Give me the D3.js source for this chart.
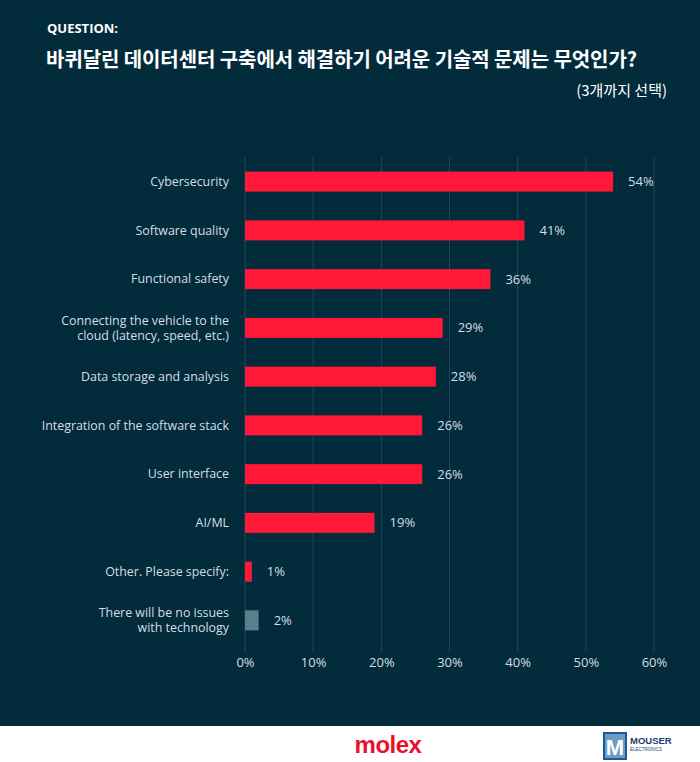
<!DOCTYPE html>
<html>
<head>
<meta charset="utf-8">
<script src="https://cdn.jsdelivr.net/npm/d3@7"></script>
<style>
  body { margin: 0; padding: 0; background: #fff; }
  svg { display: block; }
</style>
</head>
<body>
<div id="chart"></div>
<script>
// data
var categories = [
    ["Cybersecurity"],
    ["Software quality"],
    ["Functional safety"],
    ["Connecting the vehicle to the", "cloud (latency, speed, etc.)"],
    ["Data storage and analysis"],
    ["Integration of the software stack"],
    ["User interface"],
    ["AI/ML"],
    ["Other. Please specify:"],
    ["There will be no issues", "with technology"]
];
var values = [54, 41, 36, 29, 28, 26, 26, 19, 1, 2];
var neutral = [false, false, false, false, false, false, false, false, false, true];
var ticks = [0, 10, 20, 30, 40, 50, 60];

var width = 700, height = 762;
var bg = "#022b3b";

var svg = d3.select("#chart").append("svg")
    .attr("width", width)
    .attr("height", height);

svg.append("rect").attr("width", width).attr("height", 726).attr("fill", bg);
svg.append("rect").attr("y", 726).attr("width", width).attr("height", 36).attr("fill", "#ffffff");

// titles
svg.append("text")
    .attr("x", 47).attr("y", 33)
    .attr("fill", "#ffffff")
    .attr("font-family", "'Open Sans', sans-serif")
    .attr("font-weight", 700)
    .attr("font-size", 13)
    .text("QUESTION:");

svg.append("text")
    .attr("x", 46).attr("y", 67)
    .attr("fill", "#ffffff")
    .attr("font-family", "'Noto Sans CJK KR', sans-serif")
    .attr("font-weight", 700)
    .attr("font-size", 20)
    .attr("textLength", 591)
    .text("바퀴달린 데이터센터 구축에서 해결하기 어려운 기술적 문제는 무엇인가?");

svg.append("text")
    .attr("x", 667).attr("y", 96)
    .attr("text-anchor", "end")
    .attr("fill", "#ffffff")
    .attr("font-family", "'Noto Sans CJK KR', sans-serif")
    .attr("font-size", 15)
    .text("(3개까지 선택)");

// scales
var x = d3.scaleLinear().domain([0, 60]).range([245, 654]);
var y = d3.scaleBand()
    .domain(d3.range(values.length))
    .range([157, 645])
    .paddingInner(0.59)
    .paddingOuter(0.3);

// grid
svg.append("g").selectAll("line")
    .data(ticks)
    .enter().append("line")
    .attr("x1", function (d) { return x(d); })
    .attr("x2", function (d) { return x(d); })
    .attr("y1", 157)
    .attr("y2", 652)
    .attr("stroke", "#1d4a5b")
    .attr("stroke-width", 1);

// x axis
var xAxis = d3.axisBottom(x)
    .tickValues(ticks)
    .tickSize(0)
    .tickPadding(0)
    .tickFormat(function (d) { return d + "%"; });

var ax = svg.append("g")
    .attr("transform", "translate(0,667)")
    .call(xAxis);
ax.select(".domain").remove();
ax.selectAll("text")
    .attr("fill", "#d5dee4")
    .attr("font-family", "'Open Sans', sans-serif")
    .attr("font-size", 13)
    .attr("dy", 0);

// bars
svg.append("g").selectAll("rect")
    .data(values)
    .enter().append("rect")
    .attr("x", x(0))
    .attr("y", function (d, i) { return y(i); })
    .attr("width", function (d) { return x(d) - x(0); })
    .attr("height", y.bandwidth())
    .attr("fill", function (d, i) { return neutral[i] ? "#5b7d8c" : "#ff1838"; });

// value labels
svg.append("g").selectAll("text")
    .data(values)
    .enter().append("text")
    .attr("x", function (d) { return x(d) + 15; })
    .attr("y", function (d, i) { return y(i) + y.bandwidth() / 2; })
    .attr("dy", "0.35em")
    .attr("fill", "#d5dee4")
    .attr("font-family", "'Open Sans', sans-serif")
    .attr("font-size", 13)
    .text(function (d) { return d + "%"; });

// category labels, one text per line
var lines = [];
categories.forEach(function (c, i) {
    c.forEach(function (t, k) {
        lines.push({ t: t, i: i, off: (k - (c.length - 1) / 2) * 15 });
    });
});

svg.append("g").selectAll("text")
    .data(lines)
    .enter().append("text")
    .attr("x", 229)
    .attr("y", function (d) { return y(d.i) + y.bandwidth() / 2 + d.off; })
    .attr("dy", "0.35em")
    .attr("text-anchor", "end")
    .attr("fill", "#d5dee4")
    .attr("font-family", "'Open Sans', sans-serif")
    .attr("font-size", 12.4)
    .text(function (d) { return d.t; });

// footer logos
svg.append("text")
    .attr("x", 388).attr("y", 753)
    .attr("text-anchor", "middle")
    .attr("fill", "#e8112d")
    .attr("font-family", "'Liberation Sans', Arial, sans-serif")
    .attr("font-weight", 700)
    .attr("font-size", 24)
    .attr("letter-spacing", -0.5)
    .text("molex");

var mg = svg.append("g").attr("transform", "translate(603,732)");
mg.append("rect").attr("width", 24).attr("height", 28).attr("fill", "#1d5a96");
mg.append("rect").attr("x", 2).attr("y", 2).attr("width", 20).attr("height", 24).attr("fill", "#6f9bc6");
mg.append("text")
    .attr("x", 12).attr("y", 23)
    .attr("text-anchor", "middle")
    .attr("fill", "#ffffff")
    .attr("font-family", "'Liberation Sans', Arial, sans-serif")
    .attr("font-weight", 700)
    .attr("font-size", 22)
    .text("M");
mg.append("text")
    .attr("x", 27).attr("y", 12)
    .attr("fill", "#1b3f6e")
    .attr("font-family", "'Liberation Sans', Arial, sans-serif")
    .attr("font-weight", 700)
    .attr("font-size", 9.5)
    .text("MOUSER");
mg.append("text")
    .attr("x", 27).attr("y", 19)
    .attr("fill", "#1b3f6e")
    .attr("font-family", "'Liberation Sans', Arial, sans-serif")
    .attr("font-size", 4.5)
    .text("ELECTRONICS");
</script>
</body>
</html>
